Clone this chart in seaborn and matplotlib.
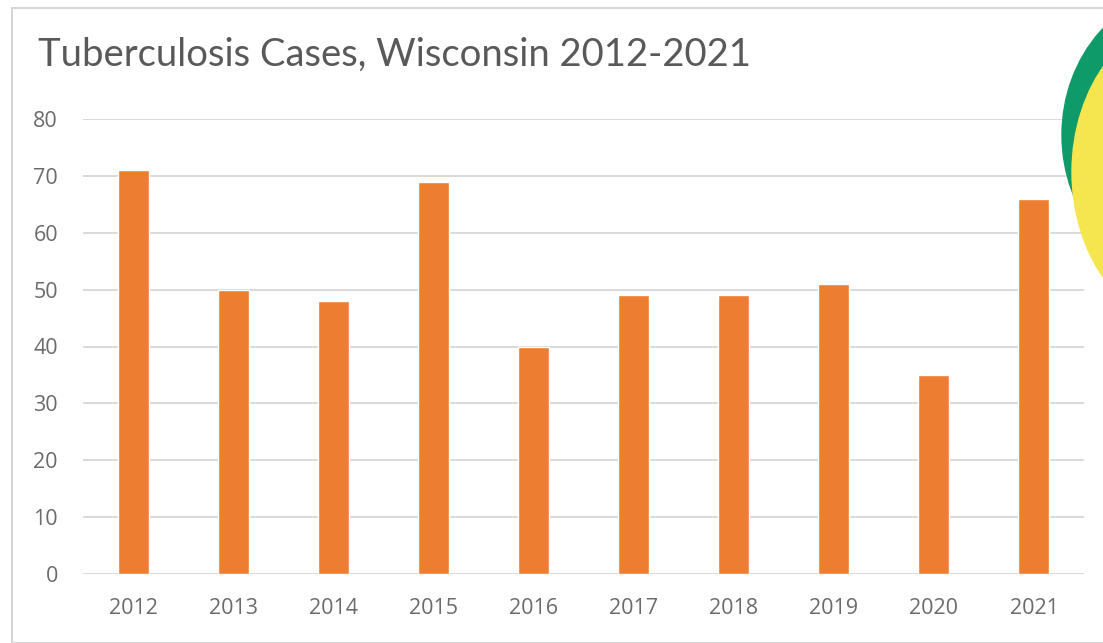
import matplotlib
matplotlib.use("Agg")
import matplotlib.pyplot as plt
from matplotlib.patches import Ellipse, Rectangle
import seaborn as sns
import pandas as pd

years = ["2012", "2013", "2014", "2015", "2016", "2017", "2018", "2019", "2020", "2021"]
cases = [71, 50, 48, 69, 40, 49, 49, 51, 35, 66]
y_ticks = [0, 10, 20, 30, 40, 50, 60, 70, 80]

sns.set_theme(style="white")
plt.rcParams["font.family"] = ["Open Sans", "DejaVu Sans"]

df = pd.DataFrame({"year": years, "cases": cases})

fig = plt.figure(figsize=(11.03, 6.43), dpi=100)
fig.patch.set_facecolor("white")

# chart frame
fig.add_artist(Rectangle((12 / 1103, 0.0), 1.2, 1 - 8 / 643, transform=fig.transFigure,
                         fill=False, edgecolor="#d6d6d6", linewidth=1.5, zorder=0))

ax = fig.add_axes([83 / 1103, 1 - 574 / 643, 1001 / 1103, (574 - 119) / 643])
sns.barplot(data=df, x="year", y="cases", color="#ED7D31", width=0.31,
            saturation=1, ax=ax, zorder=3)

ax.set_ylim(0, 80)
ax.set_xlim(-0.5, 9.5)
ax.set_yticks(y_ticks)
ax.yaxis.grid(True, color="#d9d9d9", linewidth=1.4)
ax.set_axisbelow(True)
for s in ax.spines.values():
    s.set_visible(False)
ax.set_xlabel("")
ax.set_ylabel("")
ax.tick_params(axis="both", length=0, colors="#6b6b6b", labelsize=15.5)
ax.tick_params(axis="x", pad=17)
ax.tick_params(axis="y", pad=18)

fig.text(38 / 1103, 1 - 55 / 643, "Tuberculosis Cases, Wisconsin 2012-2021",
         fontsize=27.5, color="#595959", va="center", ha="left", family=["Lato", "DejaVu Sans"])

# logo badge in the corner
fig.add_artist(Ellipse((1190 / 1103, 1 - 135 / 643), 256 / 1103, 290 / 643,
                       transform=fig.transFigure, color="#0f9a6a", zorder=5))
fig.add_artist(Ellipse((1195 / 1103, 1 - 172 / 643), 246 / 1103, 316 / 643,
                       transform=fig.transFigure, color="#f5e64f", zorder=6))

fig.savefig("out.png", dpi=100, facecolor="white")
